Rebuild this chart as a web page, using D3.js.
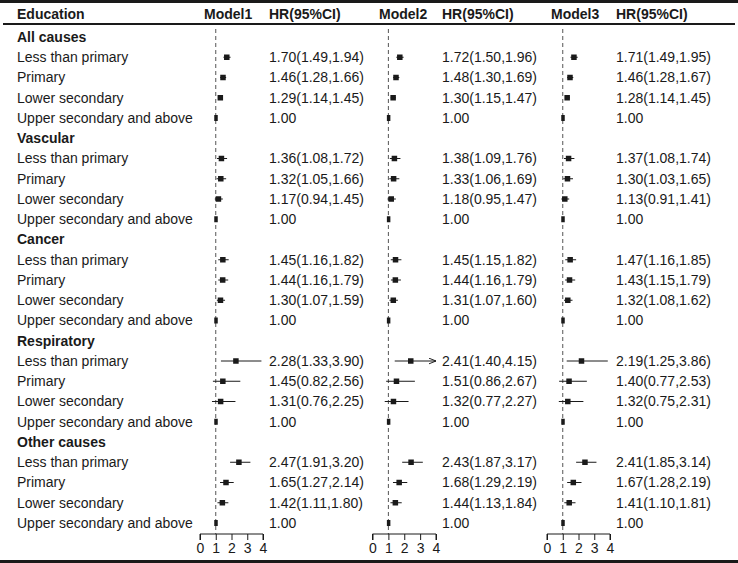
<!DOCTYPE html>
<html><head><meta charset="utf-8">
<script src="https://cdn.jsdelivr.net/npm/d3@7"></script>
<style>
body{margin:0;background:#fff;}
text{font-family:"Liberation Sans",Arial,sans-serif;fill:#1a1a1a;}
</style></head>
<body><svg id="c" width="738" height="563"></svg>
<script>
const groups = ["All causes","Vascular","Cancer","Respiratory","Other causes"];
const levels = ["Less than primary","Primary","Lower secondary","Upper secondary and above"];
const models = ["Model1","Model2","Model3"];
const ticks = [0,1,2,3,4];
// per model: hr, lo, hi for each group x 3 non-reference levels
const m1hr = [1.70,1.46,1.29, 1.36,1.32,1.17, 1.45,1.44,1.30, 2.28,1.45,1.31, 2.47,1.65,1.42];
const m1lo = [1.49,1.28,1.14, 1.08,1.05,0.94, 1.16,1.16,1.07, 1.33,0.82,0.76, 1.91,1.27,1.11];
const m1hi = [1.94,1.66,1.45, 1.72,1.66,1.45, 1.82,1.79,1.59, 3.90,2.56,2.25, 3.20,2.14,1.80];
const m2hr = [1.72,1.48,1.30, 1.38,1.33,1.18, 1.45,1.44,1.31, 2.41,1.51,1.32, 2.43,1.68,1.44];
const m2lo = [1.50,1.30,1.15, 1.09,1.06,0.95, 1.15,1.16,1.07, 1.40,0.86,0.77, 1.87,1.29,1.13];
const m2hi = [1.96,1.69,1.47, 1.76,1.69,1.47, 1.82,1.79,1.60, 4.15,2.67,2.27, 3.17,2.19,1.84];
const m3hr = [1.71,1.46,1.28, 1.37,1.30,1.13, 1.47,1.43,1.32, 2.19,1.40,1.32, 2.41,1.67,1.41];
const m3lo = [1.49,1.28,1.14, 1.08,1.03,0.91, 1.16,1.15,1.08, 1.25,0.77,0.75, 1.85,1.28,1.10];
const m3hi = [1.95,1.67,1.45, 1.74,1.65,1.41, 1.85,1.79,1.62, 3.86,2.53,2.31, 3.14,2.19,1.81];

const svg = d3.select("#c");
const W = 738;
const FS = 14;
const modelData = [[m1hr,m1lo,m1hi],[m2hr,m2lo,m2hi],[m3hr,m3lo,m3hi]];
const axX = [[200,263],[372.5,436],[547,610]];
const hrX = [269,442,616];
const modX = [204,379,551];
const rowY = i => 37 + i*20.25;
const fmt = d3.format(".2f");

svg.append("defs").append("marker").attr("id","arr").attr("viewBox","0 0 10 10")
  .attr("refX",10).attr("refY",5).attr("markerWidth",7).attr("markerHeight",7)
  .attr("markerUnits","userSpaceOnUse").attr("orient","auto")
  .append("path").attr("d","M0,1 L10,5 L0,9").attr("fill","none").attr("stroke","#1a1a1a").attr("stroke-width",1.4);

// lines
svg.append("line").attr("x1",0).attr("x2",W).attr("y1",1.5).attr("y2",1.5).attr("stroke","#1a1a1a").attr("stroke-width",3);
svg.append("line").attr("x1",3).attr("x2",W-3).attr("y1",24).attr("y2",24).attr("stroke","#1a1a1a").attr("stroke-width",2);
svg.append("line").attr("x1",0).attr("x2",W).attr("y1",561.5).attr("y2",561.5).attr("stroke","#1a1a1a").attr("stroke-width",3);

// header
const hdr = svg.append("g").attr("font-weight","bold").attr("font-size",FS);
hdr.append("text").attr("x",17).attr("y",14).attr("dy","0.35em").text("Education");
models.forEach((m,k)=>{
  hdr.append("text").attr("x",modX[k]).attr("y",14).attr("dy","0.35em").text(m);
  hdr.append("text").attr("x",hrX[k]).attr("y",14).attr("dy","0.35em").text("HR(95%CI)");
});

// row labels
let rows = [];
groups.forEach((g,gi)=>{
  rows.push({type:"group",label:g});
  levels.forEach((l,li)=>rows.push({type:"level",label:l,gi,li}));
});
const lab = svg.append("g").attr("font-size",FS);
rows.forEach((r,i)=>{
  lab.append("text").attr("x",17).attr("y",rowY(i)).attr("dy","0.35em")
    .attr("font-weight",r.type==="group"?"bold":"normal").text(r.label);
});

models.forEach((m,k)=>{
  const x = d3.scaleLinear().domain([0,4]).range(axX[k]);
  const [hr,lo,hi] = modelData[k];
  const g = svg.append("g");
  // dashed reference line
  g.append("line").attr("x1",x(1)).attr("x2",x(1)).attr("y1",29).attr("y2",534)
    .attr("stroke","#555").attr("stroke-width",1).attr("stroke-dasharray","4,3");
  rows.forEach((r,i)=>{
    if(r.type!=="level") return;
    const y = rowY(i);
    if(r.li===3){
      g.append("rect").attr("x",x(1)-1.5).attr("y",y-3).attr("width",3.5).attr("height",6).attr("fill","#1a1a1a");
      g.append("text").attr("x",hrX[k]).attr("y",y).attr("dy","0.35em").attr("font-size",FS).text("1.00");
      return;
    }
    const j = r.gi*3 + r.li;
    const h = hi[j] > 4;
    const ln = g.append("line").attr("x1",x(lo[j])).attr("x2",x(Math.min(hi[j],4))).attr("y1",y).attr("y2",y)
      .attr("stroke","#1a1a1a").attr("stroke-width",1);
    if(h) ln.attr("marker-end","url(#arr)");
    g.append("rect").attr("x",x(hr[j])-2.75).attr("y",y-2.75).attr("width",5.5).attr("height",5.5).attr("fill","#1a1a1a");
    g.append("text").attr("x",hrX[k]).attr("y",y).attr("dy","0.35em").attr("font-size",FS)
      .text(`${fmt(hr[j])}(${fmt(lo[j])},${fmt(hi[j])})`);
  });
  const ax = g.append("g").attr("transform","translate(0,534)")
    .call(d3.axisBottom(x).tickValues(ticks).tickSize(6).tickPadding(3).tickFormat(d3.format("d")));
  ax.select(".domain").attr("stroke","#1a1a1a").attr("d",`M${axX[k][0]},6V0H${axX[k][1]}V6`);
  ax.selectAll(".tick line").attr("stroke","#1a1a1a");
  ax.selectAll(".tick text").attr("font-size",FS).attr("font-family","Liberation Sans, Arial, sans-serif").attr("fill","#1a1a1a");
});
</script></body></html>
